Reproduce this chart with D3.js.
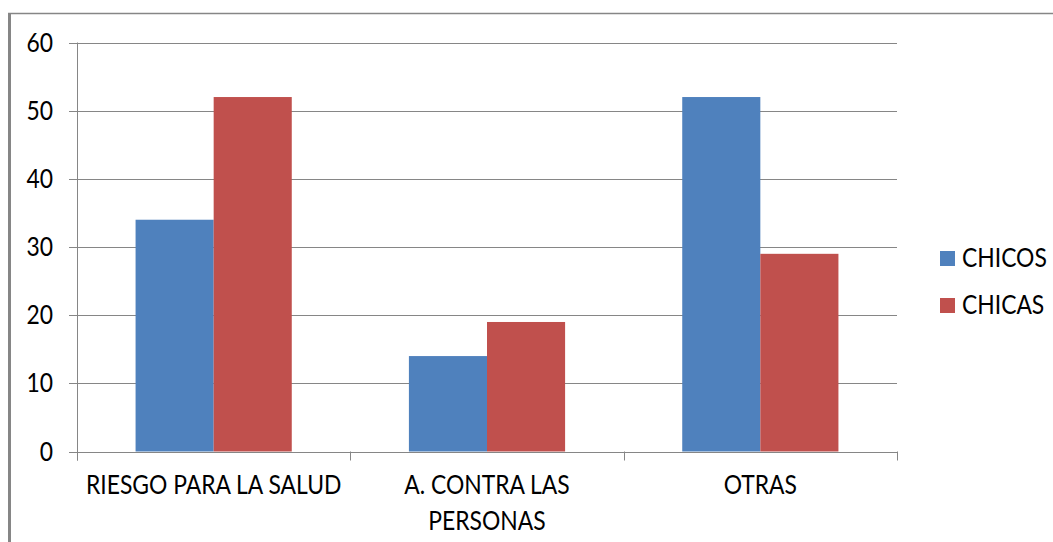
<!DOCTYPE html>
<html>
<head>
<meta charset="utf-8">
<script src="https://cdn.jsdelivr.net/npm/d3@7"></script>
<style>
  body { margin: 0; background: #fff; }
  svg text { font-family: Lato, "Open Sans", sans-serif; fill: #000; }
</style>
</head>
<body>
<svg id="chart" width="1053" height="542"></svg>
<script>
// chart data
const categories = [["RIESGO PARA LA SALUD"], ["A. CONTRA LAS", "PERSONAS"], ["OTRAS"]];
const seriesNames = ["CHICOS", "CHICAS"];
const chicos = [34, 14, 52];
const chicas = [52, 19, 29];
const yTicks = [0, 10, 20, 30, 40, 50, 60];
const colors = ["#4F81BD", "#C0504D"];

const svg = d3.select("#chart");
const margin = { top: 42.5, left: 77, right: 156, bottom: 90.5 };
const width = 1053, height = 542;
const grey = "#868686";
const fs = 26;
const sx = 0.88; // narrow the glyphs a little

// outer frame (only left and top visible)
svg.append("line").attr("x1", 8).attr("x2", width).attr("y1", 13.5).attr("y2", 13.5)
  .attr("stroke", grey).attr("stroke-width", 1.5);
svg.append("line").attr("x1", 9.5).attr("x2", 9.5).attr("y1", 13).attr("y2", height)
  .attr("stroke", grey).attr("stroke-width", 3);

const x0 = d3.scaleBand()
  .domain(d3.range(categories.length))
  .range([margin.left, width - margin.right])
  .paddingInner(0).paddingOuter(0);

const bw = x0.bandwidth() / 3.5; // excel gap width 150%

const y = d3.scaleLinear().domain([0, 60]).range([height - margin.bottom, margin.top]);

// gridlines
svg.append("g").selectAll("line").data(yTicks.filter(d => d > 0)).join("line")
  .attr("x1", margin.left).attr("x2", width - margin.right)
  .attr("y1", d => Math.round(y(d)) + 0.5).attr("y2", d => Math.round(y(d)) + 0.5)
  .attr("stroke", grey).attr("stroke-width", 1);

// y axis
const yAxis = svg.append("g");
yAxis.append("line").attr("x1", margin.left + 0.5).attr("x2", margin.left + 0.5)
  .attr("y1", y(60)).attr("y2", y(0) + 9).attr("stroke", grey);
yAxis.selectAll(".tick").data(yTicks).join("line")
  .attr("x1", margin.left - 8).attr("x2", margin.left)
  .attr("y1", d => Math.round(y(d)) + 0.5).attr("y2", d => Math.round(y(d)) + 0.5)
  .attr("stroke", grey);
yAxis.selectAll("text").data(yTicks).join("text")
  .attr("transform", d => `translate(53,${y(d)}) scale(${sx},1)`)
  .attr("dy", "0.35em")
  .attr("text-anchor", "end")
  .attr("font-size", fs)
  .text(d => d);

// bars
const series = [chicos, chicas];
series.forEach((vals, s) => {
  svg.append("g").selectAll("rect").data(vals).join("rect")
    .attr("x", (d, i) => x0(i) + bw * 0.75 + s * bw)
    .attr("width", bw)
    .attr("y", d => y(d))
    .attr("height", d => y(0) - y(d))
    .attr("fill", colors[s]);
});

// x axis
const xAxis = svg.append("g");
xAxis.append("line").attr("x1", margin.left).attr("x2", width - margin.right)
  .attr("y1", Math.round(y(0)) + 0.5).attr("y2", Math.round(y(0)) + 0.5).attr("stroke", grey);
const edges = d3.range(categories.length + 1).map(i => margin.left + i * x0.bandwidth());
xAxis.selectAll(".tick").data(edges).join("line")
  .attr("x1", d => Math.round(d) + 0.5).attr("x2", d => Math.round(d) + 0.5)
  .attr("y1", y(0)).attr("y2", y(0) + 9)
  .attr("stroke", grey);
categories.forEach((lines, i) => {
  const cx = x0(i) + x0.bandwidth() / 2;
  lines.forEach((t, j) => {
    svg.append("text")
      .attr("transform", `translate(${cx},${494 + j * 36}) scale(${sx},1)`)
      .attr("text-anchor", "middle")
      .attr("font-size", fs)
      .text(t);
  });
});

// legend
const legend = svg.append("g");
seriesNames.forEach((name, i) => {
  const ly = 251 + i * 47;
  legend.append("rect").attr("x", 940).attr("y", ly).attr("width", 15).attr("height", 15)
    .attr("fill", colors[i]);
  legend.append("text")
    .attr("transform", `translate(962,${ly + 16}) scale(${sx},1)`)
    .attr("font-size", fs)
    .text(name);
});
</script>
</body>
</html>
